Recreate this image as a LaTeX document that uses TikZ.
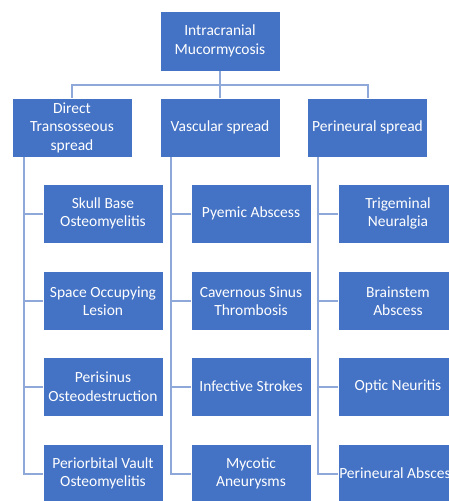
\documentclass[tikz,border=0pt]{standalone}
\usepackage{fontspec}
\setmainfont{Carlito}
\definecolor{boxblue}{HTML}{4472C4}
\definecolor{lineblue}{HTML}{8FA8DA}
\begin{document}
\begin{tikzpicture}[x=1pt, y=-1pt,
    box/.style={fill=boxblue, draw=white, line width=0.6pt, minimum width=120pt, minimum height=59pt,
      text=white, align=center, inner sep=1pt, font=\fontsize{15.5}{18.5}\selectfont},
    link/.style={draw=lineblue, line width=2pt}]
    \useasboundingbox (0, 0) rectangle (449, 501);
    \clip (0, 0) rectangle (449, 501);
    % top and second level
    \node[box, minimum height=60pt] (root) at (220, 41) {Intracranial\\Mucormycosis};
    \node[box] (direct) at (72, 127.5) {Direct\\Transosseous\\spread};
    \node[box] (vasc) at (220, 127.5) {Vascular spread};
    \node[box] (peri) at (367.5, 127.5) {Perineural spread};
    % children
    \node[box] (skull) at (103, 213.5) {Skull Base\\Osteomyelitis};
    \node[box] (space) at (103, 301) {Space Occupying\\Lesion};
    \node[box] (perisin) at (103, 386.5) {Perisinus\\Osteodestruction};
    \node[box] (orbit) at (103, 473.5) {Periorbital Vault\\Osteomyelitis};
    \node[box] (pyemic) at (251, 213.5) {Pyemic Abscess};
    \node[box] (cavern) at (251, 301) {Cavernous Sinus\\Thrombosis};
    \node[box] (stroke) at (251, 386.5) {Infective Strokes};
    \node[box] (mycot) at (251, 473.5) {Mycotic\\Aneurysms};
    \node[box] (trigem) at (398, 213.5) {Trigeminal\\Neuralgia};
    \node[box] (brain) at (398, 301) {Brainstem\\Abscess};
    \node[box] (optic) at (398, 386.5) {Optic Neuritis};
    \node[box] (pabsc) at (398, 473.5) {Perineural Abscess};
    % connectors
    \draw[link] (root.south) -- (vasc.north);
    \draw[link] (root.south) ++(0, 14) -| (direct.north);
    \draw[link] (root.south) ++(0, 14) -| (peri.north);
    \foreach \child in {skull, space, perisin, orbit}
      \draw[link] ([xshift=12pt]direct.south west) |- (\child.west);
    \foreach \child in {pyemic, cavern, stroke, mycot}
      \draw[link] ([xshift=11pt]vasc.south west) |- (\child.west);
    \foreach \child in {trigem, brain, optic, pabsc}
      \draw[link] ([xshift=11pt]peri.south west) |- (\child.west);
\end{tikzpicture}
\end{document}
